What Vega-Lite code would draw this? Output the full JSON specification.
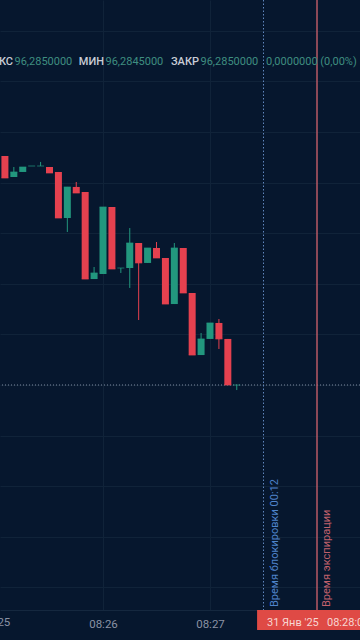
{
  "$schema": "https://vega.github.io/schema/vega-lite/v6.json",
  "width": 360,
  "height": 610,
  "autosize": {"type": "none"},
  "padding": {"left": 0, "top": 0, "right": 0, "bottom": 30},
  "background": "#06172e",
  "config": {"view": {"stroke": null}, "font": "Roboto"},
  "datasets": {
    "candles": [
      {"t": "2025-01-31T08:25:05", "open": 96.30763, "high": 96.30763, "low": 96.30545, "close": 96.30545, "dir": "down"},
      {"t": "2025-01-31T08:25:10", "open": 96.30555, "high": 96.30654, "low": 96.30555, "close": 96.30605, "dir": "up"},
      {"t": "2025-01-31T08:25:15", "open": 96.30605, "high": 96.30654, "low": 96.30605, "close": 96.30654, "dir": "up"},
      {"t": "2025-01-31T08:25:20", "open": 96.30664, "high": 96.30664, "low": 96.30664, "close": 96.30664, "dir": "up"},
      {"t": "2025-01-31T08:25:25", "open": 96.30664, "high": 96.30704, "low": 96.30664, "close": 96.30664, "dir": "up"},
      {"t": "2025-01-31T08:25:30", "open": 96.30654, "high": 96.30654, "low": 96.30595, "close": 96.30595, "dir": "down"},
      {"t": "2025-01-31T08:25:35", "open": 96.30605, "high": 96.30605, "low": 96.3015, "close": 96.3015, "dir": "down"},
      {"t": "2025-01-31T08:25:40", "open": 96.3015, "high": 96.30457, "low": 96.30012, "close": 96.30457, "dir": "up"},
      {"t": "2025-01-31T08:25:45", "open": 96.30457, "high": 96.30506, "low": 96.30397, "close": 96.30397, "dir": "down"},
      {"t": "2025-01-31T08:25:50", "open": 96.30407, "high": 96.30407, "low": 96.29547, "close": 96.29547, "dir": "down"},
      {"t": "2025-01-31T08:25:55", "open": 96.29547, "high": 96.29666, "low": 96.29547, "close": 96.29607, "dir": "up"},
      {"t": "2025-01-31T08:26:00", "open": 96.29597, "high": 96.30259, "low": 96.29597, "close": 96.30259, "dir": "up"},
      {"t": "2025-01-31T08:26:05", "open": 96.30259, "high": 96.30259, "low": 96.29646, "close": 96.29646, "dir": "down"},
      {"t": "2025-01-31T08:26:10", "open": 96.29656, "high": 96.29656, "low": 96.29607, "close": 96.29656, "dir": "up"},
      {"t": "2025-01-31T08:26:15", "open": 96.29656, "high": 96.30051, "low": 96.29459, "close": 96.29903, "dir": "up"},
      {"t": "2025-01-31T08:26:20", "open": 96.29903, "high": 96.29903, "low": 96.29142, "close": 96.29706, "dir": "down"},
      {"t": "2025-01-31T08:26:25", "open": 96.29706, "high": 96.29854, "low": 96.29706, "close": 96.29854, "dir": "up"},
      {"t": "2025-01-31T08:26:30", "open": 96.29854, "high": 96.29913, "low": 96.29755, "close": 96.29755, "dir": "down"},
      {"t": "2025-01-31T08:26:35", "open": 96.29755, "high": 96.29755, "low": 96.293, "close": 96.293, "dir": "down"},
      {"t": "2025-01-31T08:26:40", "open": 96.293, "high": 96.29903, "low": 96.293, "close": 96.29854, "dir": "up"},
      {"t": "2025-01-31T08:26:45", "open": 96.29854, "high": 96.29854, "low": 96.29409, "close": 96.29409, "dir": "down"},
      {"t": "2025-01-31T08:26:50", "open": 96.29409, "high": 96.29409, "low": 96.28796, "close": 96.28796, "dir": "down"},
      {"t": "2025-01-31T08:26:55", "open": 96.28796, "high": 96.29014, "low": 96.28796, "close": 96.28955, "dir": "up"},
      {"t": "2025-01-31T08:27:00", "open": 96.28955, "high": 96.29113, "low": 96.28955, "close": 96.29113, "dir": "up"},
      {"t": "2025-01-31T08:27:05", "open": 96.29113, "high": 96.29152, "low": 96.28856, "close": 96.28955, "dir": "down"},
      {"t": "2025-01-31T08:27:10", "open": 96.28955, "high": 96.28955, "low": 96.285, "close": 96.285, "dir": "down"},
      {"t": "2025-01-31T08:27:15", "open": 96.285, "high": 96.285, "low": 96.2845, "close": 96.285, "dir": "up"}
    ],
    "headLabels": [
      {"t": "2025-01-31T08:25:09.533", "p": 96.316868, "text": "МАКС"},
      {"t": "2025-01-31T08:26:00.561", "p": 96.316868, "text": "МИН"},
      {"t": "2025-01-31T08:26:53.832", "p": 96.316868, "text": "ЗАКР"}
    ],
    "headValues": [
      {"t": "2025-01-31T08:25:10.374", "p": 96.316868, "text": "96,2850000"},
      {"t": "2025-01-31T08:26:01.402", "p": 96.316868, "text": "96,2845000"},
      {"t": "2025-01-31T08:26:54.673", "p": 96.316868, "text": "96,2850000"},
      {"t": "2025-01-31T08:27:31.403", "p": 96.316868, "text": "0,0000000 (0,00%)"}
    ]
  },
  "layer": [
    {
      "data": {"values": [{"t": "2025-01-31T08:26:00", "p": 96.285}]},
      "mark": {"type": "point", "opacity": 0},
      "encoding": {
        "x": {
          "field": "t", "type": "temporal", "title": null,
          "scale": {"padding": 0, "domain": [
            {"year": 2025, "month": 1, "date": 31, "hours": 8, "minutes": 25, "seconds": 2, "milliseconds": 243},
            {"year": 2025, "month": 1, "date": 31, "hours": 8, "minutes": 28, "seconds": 24, "milliseconds": 112}
          ]},
          "axis": {
            "title": null,
            "values": [
              {"year": 2025, "month": 1, "date": 31, "hours": 8, "minutes": 26},
              {"year": 2025, "month": 1, "date": 31, "hours": 8, "minutes": 27}
            ],
            "format": "%H:%M",
            "grid": true, "gridColor": "#102339", "gridWidth": 1,
            "ticks": false, "domain": true, "domainColor": "#15283f",
            "labelColor": "#8a92a4", "labelFontSize": 11.5, "labelPadding": 8,
            "labelFont": "Roboto"
          }
        },
        "y": {
          "field": "p", "type": "quantitative", "title": null,
          "scale": {"domain": [96.262767, 96.323043], "zero": false, "nice": false, "padding": 0},
          "axis": {
            "title": null,
            "values": [96.265, 96.27, 96.275, 96.28, 96.285, 96.29, 96.295, 96.3, 96.305, 96.31, 96.315, 96.32],
            "grid": true, "gridColor": "#102339", "gridWidth": 1,
            "labels": false, "ticks": false, "domain": false
          }
        }
      }
    },
    {
      "data": {"values": [{"p": 96.285}]},
      "mark": {"type": "rule", "color": "#7d8aa0", "strokeWidth": 1, "strokeDash": [1, 2]},
      "encoding": {"y": {"field": "p", "type": "quantitative", "title": null}}
    },
    {
      "data": {"values": [{"t": "2025-01-31T08:27:30"}]},
      "mark": {"type": "rule", "color": "#5f86bd", "strokeWidth": 1, "strokeDash": [1.5, 2]},
      "encoding": {"x": {"field": "t", "type": "temporal", "title": null}}
    },
    {
      "data": {"values": [{"t": "2025-01-31T08:28:00"}]},
      "mark": {"type": "rule", "color": "#b85a66", "strokeWidth": 1.5},
      "encoding": {"x": {"field": "t", "type": "temporal", "title": null}}
    },
    {
      "data": {"name": "candles"},
      "mark": {"type": "rule", "strokeWidth": 1},
      "encoding": {
        "x": {"field": "t", "type": "temporal", "title": null},
        "y": {"field": "low", "type": "quantitative", "title": null},
        "y2": {"field": "high"},
        "color": {"field": "dir", "type": "nominal", "scale": {"domain": ["down", "up"], "range": ["#e5414f", "#22977e"]}, "legend": null}
      }
    },
    {
      "data": {"name": "candles"},
      "mark": {"type": "bar", "size": 7},
      "encoding": {
        "x": {"field": "t", "type": "temporal", "title": null},
        "y": {"field": "open", "type": "quantitative", "title": null},
        "y2": {"field": "close"},
        "color": {"field": "dir", "type": "nominal", "legend": null}
      }
    },
    {
      "data": {"name": "candles"},
      "mark": {"type": "tick", "orient": "horizontal", "size": 7, "thickness": 1},
      "encoding": {
        "x": {"field": "t", "type": "temporal", "title": null},
        "y": {"field": "close", "type": "quantitative", "title": null},
        "color": {"field": "dir", "type": "nominal", "legend": null}
      }
    },
    {
      "data": {"name": "headLabels"},
      "mark": {"type": "text", "align": "right", "baseline": "middle", "fontSize": 11, "fontWeight": 500, "color": "#c9cdd6"},
      "encoding": {
        "x": {"field": "t", "type": "temporal", "title": null},
        "y": {"field": "p", "type": "quantitative", "title": null},
        "text": {"field": "text"}
      }
    },
    {
      "data": {"name": "headValues"},
      "mark": {"type": "text", "align": "left", "baseline": "middle", "fontSize": 11, "color": "#3f8e80"},
      "encoding": {
        "x": {"field": "t", "type": "temporal", "title": null},
        "y": {"field": "p", "type": "quantitative", "title": null},
        "text": {"field": "text"}
      }
    },
    {
      "data": {"values": [{"t": "2025-01-31T08:27:36.449", "p": 96.263063, "text": "Время блокировки 00:12"}]},
      "mark": {"type": "text", "angle": 270, "align": "left", "baseline": "middle", "fontSize": 11, "color": "#4f84cc"},
      "encoding": {
        "x": {"field": "t", "type": "temporal", "title": null},
        "y": {"field": "p", "type": "quantitative", "title": null},
        "text": {"field": "text"}
      }
    },
    {
      "data": {"values": [{"t": "2025-01-31T08:28:05.608", "p": 96.263063, "text": "Время экспирации"}]},
      "mark": {"type": "text", "angle": 270, "align": "left", "baseline": "middle", "fontSize": 11, "color": "#c0606c"},
      "encoding": {
        "x": {"field": "t", "type": "temporal", "title": null},
        "y": {"field": "p", "type": "quantitative", "title": null},
        "text": {"field": "text"}
      }
    },
    {
      "data": {"values": [{"t": "2025-01-31T08:27:26.4", "t2": "2025-01-31T08:28:33.6", "p": 96.262767, "p2": 96.260791}]},
      "mark": {"type": "rect", "color": "#df4a45"},
      "encoding": {
        "x": {"field": "t", "type": "temporal", "title": null},
        "x2": {"field": "t2"},
        "y": {"field": "p", "type": "quantitative", "title": null},
        "y2": {"field": "p2"}
      }
    },
    {
      "data": {"values": [
        {"t": "2025-01-31T08:27:31.96", "p": 96.261482, "text": "31 Янв '25"},
        {"t": "2025-01-31T08:28:05.608", "p": 96.261482, "text": "08:28:00"}
      ]},
      "mark": {"type": "text", "align": "left", "baseline": "middle", "fontSize": 11, "color": "#f7d6d2"},
      "encoding": {
        "x": {"field": "t", "type": "temporal", "title": null},
        "y": {"field": "p", "type": "quantitative", "title": null},
        "text": {"field": "text"}
      }
    },
    {
      "data": {"values": [{"t": "2025-01-31T08:25:00", "p": 96.261482, "text": "08:25"}]},
      "mark": {"type": "text", "align": "center", "baseline": "middle", "fontSize": 11.5, "color": "#8a92a4"},
      "encoding": {
        "x": {"field": "t", "type": "temporal", "title": null},
        "y": {"field": "p", "type": "quantitative", "title": null},
        "text": {"field": "text"}
      }
    }
  ]
}
